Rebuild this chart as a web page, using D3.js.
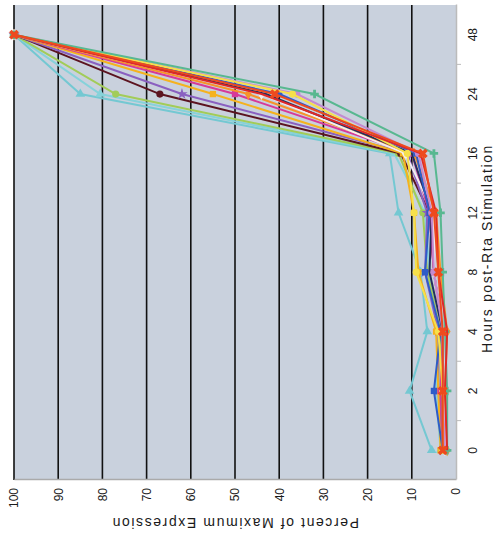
<!DOCTYPE html>
<html>
<head>
<meta charset="utf-8">
<script src="https://cdn.jsdelivr.net/npm/d3@7"></script>
<style>
 body { margin: 0; background: #fff; }
 text { font-family: "Liberation Sans", Arial, sans-serif; fill: #1a1a1a; }
</style>
</head>
<body>
<svg id="chart" width="499" height="537"></svg>
<script>
// chart data (hours are categories, values are percent of maximum expression)
var hours = ['0', '2', '4', '8', '12', '16', '24', '48'];
var percentTicks = [0, 10, 20, 30, 40, 50, 60, 70, 80, 90, 100];

var teal     = [2, 2, 2.5, 3, 3.5, 5, 32, 100];
var lilac    = [2.5, 3, 3, 5, 5.5, 8.5, 36, 100];
var yellow   = [3, 3, 4, 9, 9.5, 11, 37, 100];
var blue     = [3, 5, 3.5, 7, 6, 9, 40, 100];
var navy     = [3, 3, 3, 6, 5.5, 10, 43, 100];
var pale     = [2.5, 3, 3, 5, 5, 11.5, 44, 100];
var red      = [2, 2.5, 2, 4, 4.5, 8, 44, 100];
var orange   = [2, 2.5, 2, 3.5, 4.5, 9.5, 47, 100];
var magenta  = [3, 3.5, 3, 5, 6, 10, 50, 100];
var gold     = [3.5, 4, 4.5, 8.5, 9.5, 12, 55, 100];
var purple   = [3, 4, 4, 7, 6.5, 11, 62, 100];
var maroon   = [3, 3, 3, 5, 6, 12.5, 67, 100];
var ltgreen  = [3, 3.5, 3.5, 6.5, 7.5, 13, 77, 100];
var cyan2    = [3.5, 4.5, 4, 6, 7, 14, 80.5, 100];
var cyan     = [5.5, 10.5, 6.5, 8, 13, 15, 85, 100];
var redX     = [3, 3, 3, 4, 5, 7.5, 41, 100];

var seriesValues = [cyan, cyan2, ltgreen, maroon, purple, gold, magenta, orange,
 pale, navy, blue, lilac, yellow, teal, red, redX];
var seriesColors = ['#74c8d2', '#86d2da', '#a2cc58', '#5c1420', '#8a60c0', '#f5b21e', '#d63a9a', '#f7932a',
 '#f4eef0', '#22305e', '#2e5cc8', '#c48ad0', '#f6e04a', '#58b890', '#e02828', '#ee4a1e'];
var seriesSymbols = ['triangle', 'triangle', 'circle', 'circle', 'star', 'square', 'square', 'diamond',
 'diamond', 'none', 'square', 'circle', 'circle', 'cross', 'none', 'x'];

// the original chart is drawn upright, then turned a quarter turn counter-clockwise
var plotLen = 475;   // hours axis length
var plotDepth = 442; // percent axis length

var svg = d3.select('#chart');
var g = svg.append('g')
 .attr('transform', 'translate(14,480) rotate(-90)');

var x = d3.scaleBand().domain(hours).range([0, plotLen]);
var y = d3.scaleLinear().domain([0, 100]).range([plotDepth, 0]);

// plot background
g.append('rect')
 .attr('x', 0).attr('y', 0)
 .attr('width', plotLen).attr('height', plotDepth)
 .style('fill', '#c9d1dd');

// grid lines every 10 %
g.selectAll('.grid')
 .data(percentTicks.filter(function(d) { return d > 0; }))
 .enter().append('line')
 .attr('class', 'grid')
 .attr('x1', 0).attr('x2', plotLen)
 .attr('y1', function(d) { return y(d); })
 .attr('y2', function(d) { return y(d); })
 .style('stroke', '#111')
 .style('stroke-width', '1.6px');

// percent axis
var yAxis = g.append('g')
 .call(d3.axisLeft(y).tickValues(percentTicks).tickSize(0).tickPadding(8));
yAxis.select('.domain').style('stroke', '#aaa').style('stroke-width', '1.5px');
yAxis.selectAll('text').style('font-size', '12px').style('font-family', '"Liberation Sans", Arial, sans-serif');

// hours axis
var xAxis = g.append('g')
 .attr('transform', 'translate(0,' + plotDepth + ')')
 .call(d3.axisBottom(x).tickSize(0).tickPadding(12));
xAxis.select('.domain').style('stroke', '#bbb').style('stroke-width', '1.5px');
xAxis.selectAll('text').style('font-size', '12px').style('font-family', '"Liberation Sans", Arial, sans-serif');

// small tick marks between categories
xAxis.selectAll('.sep')
 .data(hours.slice(1))
 .enter().append('line')
 .attr('class', 'sep')
 .attr('x1', function(d) { return x(d); })
 .attr('x2', function(d) { return x(d); })
 .attr('y1', 0).attr('y2', 5)
 .style('stroke', '#bbb');

// axis titles
g.append('text')
 .attr('transform', 'translate(-38,' + plotDepth/2 + ') rotate(-90)')
 .attr('text-anchor', 'middle')
 .style('font-size', '14px')
 .style('letter-spacing', '1.6px')
 .text('Percent of Maximum Expression');

g.append('text')
 .attr('x', plotLen/2 - 6)
 .attr('y', plotDepth + 36)
 .attr('text-anchor', 'middle')
 .style('font-size', '14px')
 .style('letter-spacing', '1.6px')
 .text('Hours post-Rta Stimulation');

// series lines and markers
var line = d3.line()
 .x(function(d, i) { return x(hours[i]) + x.bandwidth()/2; })
 .y(function(d) { return y(d); });

var symbolTypes = {
 triangle: d3.symbolTriangle, circle: d3.symbolCircle, star: d3.symbolStar,
 square: d3.symbolSquare, diamond: d3.symbolDiamond, cross: d3.symbolCross, x: d3.symbolCross
};

seriesValues.forEach(function(vals, k)
{
 var sg = g.append('g').attr('class', 'series');
 sg.append('path')
  .attr('d', line(vals))
  .style('fill', 'none')
  .style('stroke', seriesColors[k])
  .style('stroke-width', '2px');

 var sym = seriesSymbols[k];
 if(sym == 'none') return;
 var size = (sym == 'x') ? 60 : 40;
 var rot = (sym == 'x') ? 45 : 0;
 sg.selectAll('.marker')
  .data(vals)
  .enter().append('path')
  .attr('class', 'marker')
  .attr('transform', function(d, i) {
   return 'translate(' + (x(hours[i]) + x.bandwidth()/2) + ',' + y(d) + ') rotate(' + (90 + rot) + ')';
  })
  .attr('d', d3.symbol().type(symbolTypes[sym]).size(size))
  .style('fill', seriesColors[k]);
});
</script>
</body>
</html>
